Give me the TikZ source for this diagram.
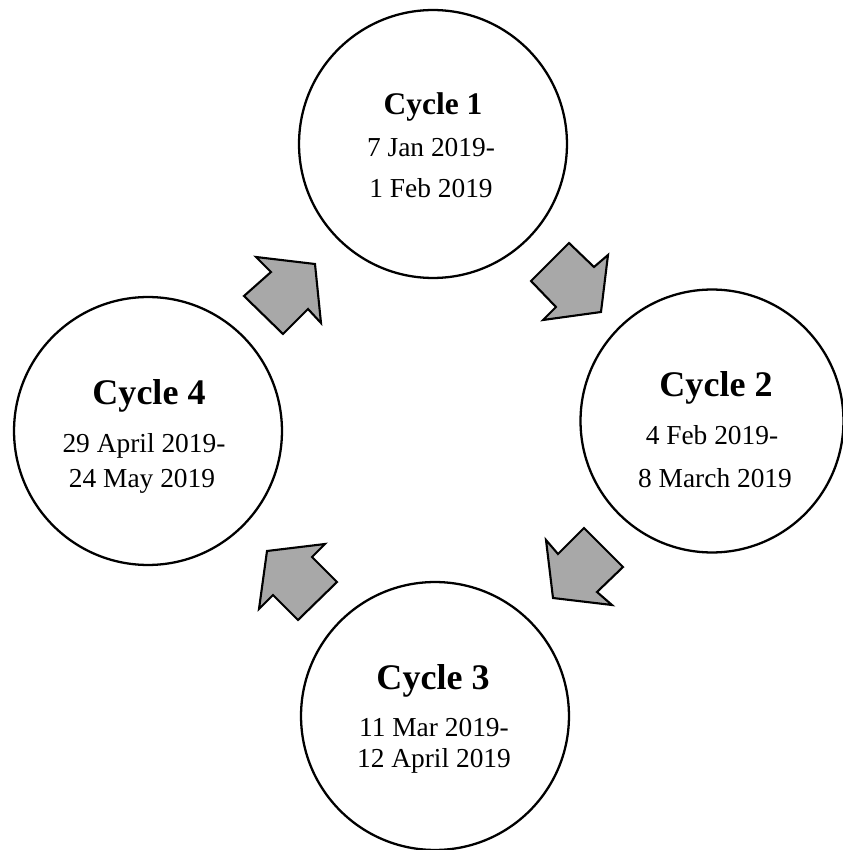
\documentclass[tikz,border=0pt]{standalone}
\usepackage{fontspec}
\setmainfont{Liberation Serif}
\usetikzlibrary{positioning}
\definecolor{cyclegray}{RGB}{168,168,168}

\begin{document}
\begin{tikzpicture}[x=.02cm,y=.02cm,
  cyclering/.style={circle,draw,line width=1.3pt,inner sep=0pt,
    minimum size=5.36cm},
  cycletitle/.style={anchor=base,font=\fontsize{20.5}{24}\selectfont\bfseries},
  cycledate/.style={anchor=base,font=\fontsize{15.6}{18}\selectfont},
  turnarrow/.style={fill=cyclegray,draw=black,line width=1.2pt,
    line join=miter}]
  \useasboundingbox (0,0) rectangle (843,850);
  % the four cycles
  \node[cyclering] (c1) at (433,706) {};
  \node[cyclering,minimum size=5.26cm] (c2) at (712,429) {};
  \node[cyclering] (c3) at (435,134) {};
  \node[cyclering] (c4) at (148,419) {};
  % texts
  \node[cycletitle,font=\fontsize{17.9}{21}\selectfont\bfseries] (t1)
    at (433,735) {Cycle 1};
  \node[cycledate] (d1a) at (431,693) {7 Jan 2019-};
  \node[cycledate] (d1b) at (431,652) {1 Feb 2019};
  \node[cycletitle] (t2) at (716,453) {Cycle 2};
  \node[cycledate] (d2a) at (712,405) {4 Feb 2019-};
  \node[cycledate] (d2b) at (715,362) {8 March 2019};
  \node[cycletitle] (t3) at (433,160) {Cycle 3};
  \node[cycledate] (d3a) at (434,113) {11 Mar 2019-};
  \node[cycledate] (d3b) at (434,82) {12 April 2019};
  \node[cycletitle] (t4) at (149,445) {Cycle 4};
  \node[cycledate] (d4a) at (144,397) {29 April 2019-};
  \node[cycledate] (d4b) at (142,362) {24 May 2019};
  % block arrows between the cycles
  \draw[turnarrow] (256,593)--(315,586)--(321,527)--(308,541)
    --(283,516)--(244,554)--(271,578)--cycle;
  \draw[turnarrow] (569,607)--(594,583)--(608,595)--(601,538)
    --(543,530)--(556,543)--(531,569)--cycle;
  \draw[turnarrow] (584,322)--(623,283)--(597,258)--(612,245)
    --(553,252)--(546,310)--(558,296)--cycle;
  \draw[turnarrow] (267,299)--(325,306)--(312,293)--(337,268)
    --(298,230)--(273,255)--(259,241)--cycle;
\end{tikzpicture}
\end{document}
